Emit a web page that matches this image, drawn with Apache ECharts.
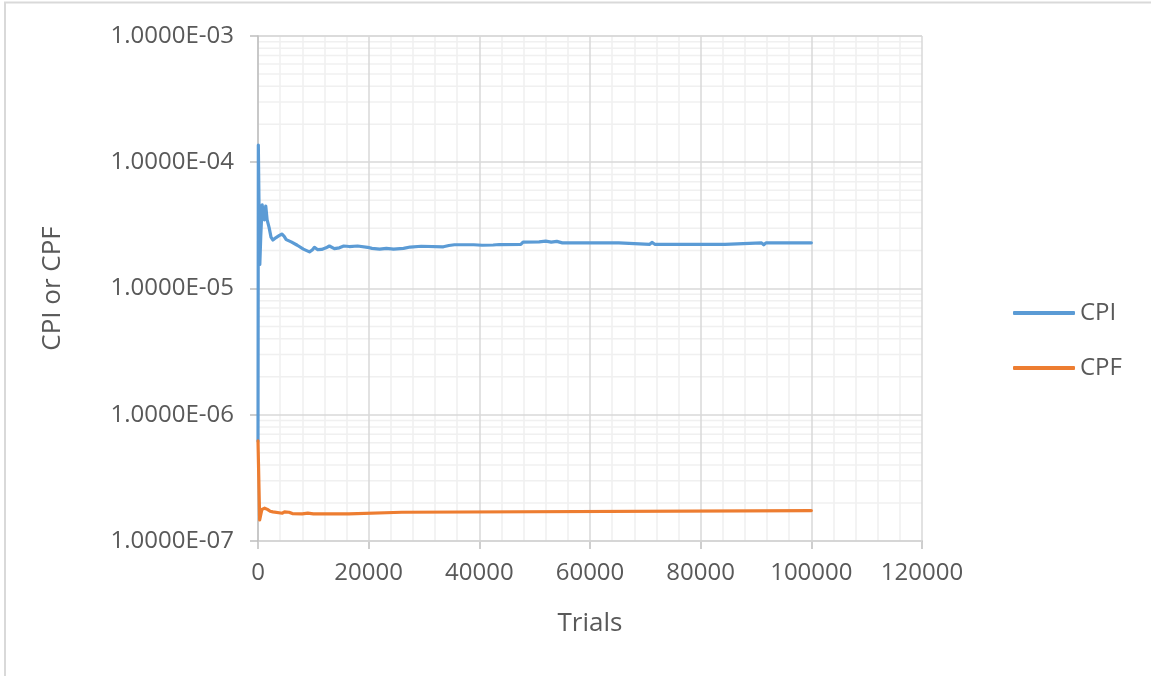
<!DOCTYPE html>
<html>
<head>
<meta charset="utf-8">
<script src="https://cdn.jsdelivr.net/npm/echarts@6/dist/echarts.min.js"></script>
<style>
  html, body { margin: 0; padding: 0; background: #ffffff; }
  #chart { width: 1151px; height: 676px; }
</style>
</head>
<body>
<div id="chart"></div>
<script>
// Convergence of CPI and CPF over the number of Monte Carlo trials
const seriesNames = ['CPI', 'CPF'];

const cpiTrials = [1, 60, 200, 330, 500, 750, 950, 1150, 1400, 1650, 2000, 2350, 2700, 3200, 3800, 4300, 4700, 5100, 6000, 7100, 8200, 9300, 9800, 10200, 10800, 11500, 12300, 12900, 13800, 14700, 15500, 16500, 18000, 19800, 20600, 22000, 23200, 24500, 26300, 27500, 29500, 33500, 34500, 35500, 39000, 40500, 42500, 43600, 47500, 47900, 50800, 52000, 53000, 54000, 55000, 60000, 65200, 65500, 70800, 71200, 71700, 84400, 84600, 91000, 91400, 91800, 100000];
const cpiValues = [6.2e-7, 1.37e-4, 4.0e-5, 1.55e-5, 2.6e-5, 4.6e-5, 4.5e-5, 3.5e-5, 4.5e-5, 3.5e-5, 3.05e-5, 2.55e-5, 2.42e-5, 2.52e-5, 2.62e-5, 2.7e-5, 2.6e-5, 2.44e-5, 2.34e-5, 2.2e-5, 2.05e-5, 1.95e-5, 2.02e-5, 2.12e-5, 2.03e-5, 2.04e-5, 2.1e-5, 2.17e-5, 2.07e-5, 2.1e-5, 2.17e-5, 2.15e-5, 2.17e-5, 2.12e-5, 2.08e-5, 2.05e-5, 2.08e-5, 2.05e-5, 2.08e-5, 2.13e-5, 2.16e-5, 2.14e-5, 2.19e-5, 2.22e-5, 2.22e-5, 2.2e-5, 2.21e-5, 2.23e-5, 2.24e-5, 2.33e-5, 2.34e-5, 2.37e-5, 2.33e-5, 2.36e-5, 2.3e-5, 2.3e-5, 2.3e-5, 2.24e-5, 2.24e-5, 2.32e-5, 2.24e-5, 2.24e-5, 2.3e-5, 2.3e-5, 2.22e-5, 2.3e-5, 2.3e-5];

const cpfTrials = [1, 300, 700, 1200, 1700, 2200, 2700, 3000, 4400, 4800, 5600, 6200, 8000, 9000, 10000, 16400, 16500, 26000, 26200, 100000];
const cpfValues = [6.2e-7, 1.47e-7, 1.78e-7, 1.82e-7, 1.78e-7, 1.72e-7, 1.7e-7, 1.65e-7, 1.66e-7, 1.7e-7, 1.69e-7, 1.65e-7, 1.64e-7, 1.66e-7, 1.64e-7, 1.64e-7, 1.69e-7, 1.69e-7, 1.74e-7, 1.74e-7];

// Axis ranges and tick labels
const xTicks = [0, 20000, 40000, 60000, 80000, 100000, 120000];
const yDecades = [1e-7, 1e-6, 1e-5, 1e-4, 1e-3];
const minorMultipliers = [2, 3, 4, 5, 6, 7, 8, 9];

const FONT = '"Open Sans", "Noto Sans", sans-serif';
const TEXT = '#595959';

function pair(xs, ys) { return xs.map((x, i) => [x, ys[i]]); }

function sciLabel(v) {
  const e = Math.round(Math.log10(v));
  const m = v / Math.pow(10, e);
  const sign = e < 0 ? '-' : '+';
  const ab = Math.abs(e);
  return m.toFixed(4) + 'E' + sign + (ab < 10 ? '0' + ab : String(ab));
}

// Logarithmic minor gridline values (2..9 within each decade)
const minorY = [];
for (let d = 0; d < yDecades.length - 1; d++) {
  minorMultipliers.forEach(m => minorY.push([xTicks[0], yDecades[d] * m]));
}

const chart = echarts.init(document.getElementById('chart'), null, { renderer: 'canvas' });

chart.setOption({
  backgroundColor: '#ffffff',
  animation: false,
  textStyle: { fontFamily: FONT },
  graphic: [{
    type: 'rect',
    silent: true,
    shape: { x: 5, y: 2.5, width: 1400, height: 900 },
    style: { fill: 'none', stroke: '#d9d9d9', lineWidth: 2 }
  }],
  grid: { left: 258, right: 229, top: 36, bottom: 135, containLabel: false },
  legend: {
    data: seriesNames,
    orient: 'vertical',
    left: 1013,
    top: 301,
    padding: 0,
    itemWidth: 62,
    itemHeight: 4,
    itemGap: 31,
    icon: 'roundRect',
    textStyle: { fontFamily: FONT, fontSize: 24, color: TEXT, lineHeight: 24 }
  },
  xAxis: {
    type: 'value',
    z: 2,
    min: xTicks[0],
    max: xTicks[xTicks.length - 1],
    interval: xTicks[1] - xTicks[0],
    name: 'Trials',
    nameLocation: 'middle',
    nameGap: 70,
    nameTextStyle: { fontFamily: FONT, fontSize: 26, color: TEXT },
    axisLine: { show: true, lineStyle: { color: '#bfbfbf', width: 1.5 } },
    axisTick: { show: true, inside: false, length: 8, lineStyle: { color: '#bfbfbf', width: 1.5 } },
    axisLabel: { margin: 20, fontFamily: FONT, fontSize: 24, color: TEXT, formatter: v => String(v) },
    splitLine: { show: true, lineStyle: { color: '#d9d9d9', width: 1.5 } },
    minorTick: { show: false, splitNumber: 5 },
    minorSplitLine: { show: true, lineStyle: { color: '#f0f0f0', width: 1.5 } }
  },
  yAxis: {
    type: 'log',
    logBase: 10,
    z: 3,
    min: yDecades[0],
    max: yDecades[yDecades.length - 1],
    interval: 1,
    name: 'CPI or CPF',
    nameLocation: 'middle',
    nameRotate: 90,
    nameGap: 192,
    nameTextStyle: { fontFamily: FONT, fontSize: 26, color: TEXT },
    axisLine: { show: true, lineStyle: { color: '#bfbfbf', width: 1.5 } },
    axisTick: { show: true, inside: false, length: 8, lineStyle: { color: '#bfbfbf', width: 1.5 } },
    axisLabel: { margin: 24, fontFamily: FONT, fontSize: 24, color: TEXT, formatter: v => sciLabel(v) },
    splitLine: { show: true, lineStyle: { color: '#d9d9d9', width: 1.5 } }
  },
  series: [
    {
      // horizontal minor gridlines of the log axis
      name: 'minor-grid',
      type: 'custom',
      z: 1,
      silent: true,
      clip: true,
      data: minorY,
      renderItem: function (params, api) {
        const p = api.coord([api.value(0), api.value(1)]);
        const cs = params.coordSys;
        return {
          type: 'line',
          shape: { x1: cs.x, y1: p[1], x2: cs.x + cs.width, y2: p[1] },
          style: { stroke: '#f0f0f0', lineWidth: 1.5 }
        };
      }
    },
    {
      name: seriesNames[0],
      type: 'line',
      z: 5,
      data: pair(cpiTrials, cpiValues),
      showSymbol: false,
      symbol: 'none',
      lineStyle: { color: '#5b9bd5', width: 3.2, cap: 'round', join: 'round' },
      itemStyle: { color: '#5b9bd5' }
    },
    {
      name: seriesNames[1],
      type: 'line',
      z: 6,
      data: pair(cpfTrials, cpfValues),
      showSymbol: false,
      symbol: 'none',
      lineStyle: { color: '#ed7d31', width: 3.2, cap: 'round', join: 'round' },
      itemStyle: { color: '#ed7d31' }
    }
  ]
});
</script>
</body>
</html>
